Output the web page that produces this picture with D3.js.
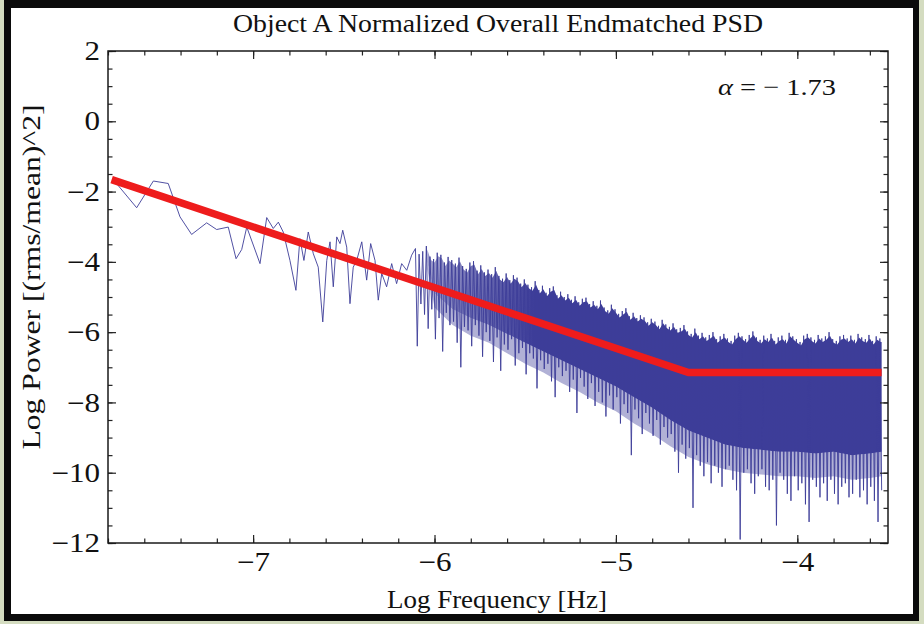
<!DOCTYPE html>
<html>
<head>
<meta charset="utf-8">
<script src="https://cdn.jsdelivr.net/npm/d3@7"></script>
<style>
  html, body { margin: 0; padding: 0; background: #d4dcc0; }
  svg { display: block; }
  text { font-family: "Liberation Serif", "Times New Roman", serif; fill: #111; }
</style>
</head>
<body>
<svg id="chart" width="924" height="624"></svg>
<script>
// ---- data (log10 frequency / log10 power) ----

// sparse low-frequency points, drawn one by one
const sparseFreq = [-7.771, -7.642, -7.550, -7.468, -7.403, -7.339, -7.256, -7.201, -7.137, -7.094,
  -7.063, -7.035, -6.962, -6.925, -6.889, -6.861, -6.834, -6.797, -6.764, -6.742,
  -6.720, -6.696, -6.668, -6.641, -6.616, -6.594, -6.576, -6.558, -6.539, -6.521,
  -6.506, -6.484, -6.466, -6.448, -6.429, -6.401, -6.374, -6.352, -6.328, -6.310,
  -6.291, -6.264, -6.236, -6.209, -6.181, -6.153, -6.126];
const sparsePower = [-1.66, -2.46, -1.70, -1.77, -2.72, -3.22, -2.89, -3.08, -3.01, -3.91,
  -3.65, -3.01, -4.05, -2.74, -3.05, -2.87, -3.15, -3.96, -4.81, -3.34,
  -3.96, -3.15, -3.77, -4.15, -5.71, -3.96, -3.43, -4.71, -3.29, -3.48,
  -3.10, -3.58, -5.19, -4.15, -3.96, -3.43, -4.52, -3.48, -3.96, -5.09,
  -4.33, -4.71, -4.05, -4.62, -4.05, -4.24, -3.81];

// dense part: per 0.02-decade bin, highest and lowest value of the trace
const binStart = -6.10;
const binStep = 0.02;
const binHigh = [
  -3.62, -3.78, -3.70, -3.55, -3.85, -3.92, -3.74, -3.80, -4.02, -3.86,
  -3.95, -4.05, -3.88, -4.12, -4.20, -4.02, -3.98, -4.25, -4.10, -4.30,
  -4.22, -4.35, -4.15, -4.40, -4.48, -4.33, -4.52, -4.38, -4.45, -4.62,
  -4.50, -4.65, -4.72, -4.55, -4.80, -4.68, -4.88, -4.75, -4.70, -4.95,
  -4.85, -5.00, -4.92, -5.08, -4.98, -5.15, -5.05, -5.02, -5.20, -5.12,
  -5.25, -5.10, -5.30, -5.38, -5.22, -5.35, -5.48, -5.40, -5.32, -5.55,
  -5.45, -5.60, -5.52, -5.58, -5.72, -5.62, -5.70, -5.82, -5.65, -5.78,
  -5.85, -5.75, -5.92, -5.88, -5.80, -5.98, -6.05, -5.90, -6.10, -6.02,
  -6.15, -6.08, -6.00, -6.20, -6.12, -6.05, -6.18, -6.25, -6.10, -6.02,
  -6.12, -6.20, -6.08, -5.98, -6.15, -6.22, -6.10, -6.18, -6.05, -6.25,
  -6.15, -6.10, -6.22, -6.02, -6.12, -6.20, -6.28, -6.10, -6.05, -6.15,
  -6.22, -6.08, -6.18, -6.12, -6.00, -6.20, -6.25, -6.12, -6.08, -6.18,
  -6.10, -6.22, -6.05, -6.15, -6.20, -6.08, -6.25, -6.12, -6.18];
const binLow = [
  -6.40, -5.20, -5.50, -5.90, -5.35, -6.20, -5.60, -6.55, -5.45, -5.80,
  -5.70, -6.30, -7.00, -5.85, -5.95, -6.40, -5.80, -6.10, -6.70, -6.00,
  -6.25, -6.85, -6.15, -7.10, -6.35, -6.50, -6.20, -6.95, -6.60, -6.45,
  -7.20, -6.60, -6.75, -7.60, -6.80, -7.05, -6.90, -7.40, -7.85, -7.00,
  -7.25, -7.10, -7.70, -7.35, -8.30, -7.30, -7.55, -7.90, -7.45, -8.10,
  -7.70, -8.00, -8.40, -7.80, -8.20, -7.85, -8.60, -8.05, -8.30, -9.50,
  -8.20, -8.45, -8.90, -8.30, -8.60, -8.95, -8.50, -9.20, -8.70, -9.00,
  -8.90, -9.40, -10.00, -9.20, -9.60, -9.30, -11.00, -9.50, -9.80, -10.10,
  -9.70, -10.30, -9.80, -10.00, -10.40, -9.90, -9.80, -10.20, -10.50, -11.90,
  -10.00, -9.90, -10.30, -10.60, -10.10, -9.90, -10.40, -10.50, -10.20, -11.50,
  -10.00, -10.20, -10.60, -10.80, -10.10, -10.50, -10.30, -10.90, -11.40, -10.20,
  -10.40, -10.70, -10.30, -10.80, -10.20, -10.60, -10.90, -10.40, -10.30, -10.70,
  -10.60, -10.20, -10.70, -10.50, -10.90, -10.40, -10.80, -11.40, -10.50];

// lower edges of the dense band: where it is solid, and where the spikes thin out
const coreFreq = [-6.04, -6.0, -5.9, -5.8, -5.7, -5.6, -5.5, -5.4, -5.3, -5.2, -5.1, -5.0, -4.9,
  -4.8, -4.7, -4.6, -4.5, -4.4, -4.3, -4.2, -4.1, -4.0, -3.9, -3.8, -3.7, -3.6, -3.535];
const coreBottom = [-4.0, -4.9, -5.35, -5.6, -5.8, -6.05, -6.3, -6.55, -6.8, -7.05, -7.3, -7.55, -7.85,
  -8.15, -8.5, -8.8, -9.0, -9.2, -9.3, -9.35, -9.4, -9.4, -9.45, -9.4, -9.5, -9.45, -9.4];
const fringeBottom = [-4.2, -5.3, -5.8, -6.1, -6.3, -6.6, -6.9, -7.15, -7.45, -7.7, -8.0, -8.25, -8.6,
  -8.9, -9.25, -9.55, -9.75, -9.9, -10.0, -10.05, -10.1, -10.1, -10.15, -10.1, -10.2, -10.15, -10.1];

// broken power-law fit
const fitFreq = [-7.78, -4.60, -3.535];
const fitPower = [-1.66, -7.15, -7.15];
const alphaText = '\u2212 1.73';

const xMajor = [-7, -6, -5, -4];
const yMajor = [-12, -10, -8, -6, -4, -2, 0, 2];

// ---- layout ----
const W = 924, H = 624;
const plot = { left: 108, right: 888, top: 51, bottom: 543 };
const blue = '#3d3d99';

const x = d3.scaleLinear().domain([-7.8, -3.5]).range([plot.left, plot.right]);
const y = d3.scaleLinear().domain([-12, 2]).range([plot.bottom, plot.top]);

const xMinor = d3.range(-39, -17).map(v => v / 5);
const yMinor = d3.range(-24, 5).map(v => v / 2);

const fmt = d => (d < 0 ? '\u2212' + Math.abs(d) : String(d));
const line = d3.line().x(d => x(d[0])).y(d => y(d[1]));

const svg = d3.select('#chart');

// outer page frame
svg.append('rect').attr('width', W).attr('height', H).attr('fill', '#d4dcc0');
svg.append('rect')
  .attr('x', 4).attr('y', 0).attr('width', 915).attr('height', 621)
  .attr('fill', '#0b0b0b');
svg.append('rect')
  .attr('x', 11).attr('y', 8).attr('width', 902).attr('height', 606)
  .attr('fill', '#ffffff');

const defs = svg.append('defs');
defs.append('clipPath').attr('id', 'plot-clip')
  .append('rect')
  .attr('x', plot.left).attr('y', plot.top)
  .attr('width', plot.right - plot.left).attr('height', plot.bottom - plot.top);

// the band is still see-through where the trace is only starting to crowd
const fade = defs.append('linearGradient')
  .attr('id', 'body-fade')
  .attr('gradientUnits', 'userSpaceOnUse')
  .attr('x1', x(-6.05)).attr('x2', x(-5.45))
  .attr('y1', 0).attr('y2', 0);
fade.append('stop').attr('offset', 0).attr('stop-color', blue).attr('stop-opacity', 0.5);
fade.append('stop').attr('offset', 1).attr('stop-color', blue).attr('stop-opacity', 1);

const marks = svg.append('g').attr('clip-path', 'url(#plot-clip)');

const bins = binHigh.map((hi, i) => ({ f: binStart + i * binStep, hi, lo: binLow[i] }));
const coreEdge = coreFreq.map((f, i) => [f, coreBottom[i]]);
const fringeEdge = coreFreq.map((f, i) => [f, fringeBottom[i]]);

// thinning spikes just under the solid part
marks.append('path')
  .datum(coreEdge.concat(fringeEdge.slice().reverse()))
  .attr('fill', blue)
  .attr('fill-opacity', 0.4)
  .attr('d', line.curve(d3.curveLinearClosed));

// solid body of the dense band: bin peaks on top, core edge underneath
const bodyTop = bins
  .filter(b => b.f >= coreFreq[0] - 1e-9)
  .map(b => [b.f, b.hi - 0.1]);
bodyTop.push([coreFreq[coreFreq.length - 1], binHigh[binHigh.length - 1] - 0.1]);

marks.append('path')
  .datum(bodyTop.concat(coreEdge.slice().reverse()))
  .attr('fill', 'url(#body-fade)')
  .attr('d', line.curve(d3.curveLinearClosed));

line.curve(d3.curveLinear);

// PSD trace: sparse points, then each dense bin as its high / low swing
const trace = sparseFreq.map((f, i) => [f, sparsePower[i]]);
bins.forEach(b => {
  trace.push([b.f - binStep / 4, b.hi]);
  trace.push([b.f + binStep / 4, b.lo]);
});

marks.append('path')
  .datum(trace)
  .attr('fill', 'none')
  .attr('stroke', blue)
  .attr('stroke-width', 0.9)
  .attr('d', line);

// fit line
marks.append('path')
  .datum(fitFreq.map((f, i) => [f, fitPower[i]]))
  .attr('fill', 'none')
  .attr('stroke', '#ee1c1c')
  .attr('stroke-width', 7.5)
  .attr('d', line);

// ---- frame ticks (inward, on all four sides) ----
function tickGroup(axis, tx, ty) {
  const g = svg.append('g').attr('transform', `translate(${tx},${ty})`).call(axis);
  g.select('.domain').remove();
  g.selectAll('line').attr('stroke', '#222').attr('stroke-width', 1.2);
  return g;
}

tickGroup(d3.axisBottom(x).tickValues(xMinor).tickSize(-4.5).tickFormat(''), 0, plot.bottom);
tickGroup(d3.axisTop(x).tickValues(xMinor).tickSize(-4.5).tickFormat(''), 0, plot.top);
tickGroup(d3.axisTop(x).tickValues(xMajor).tickSize(-8).tickFormat(''), 0, plot.top);
tickGroup(d3.axisLeft(y).tickValues(yMinor).tickSize(-4.5).tickFormat(''), plot.left, 0);
tickGroup(d3.axisRight(y).tickValues(yMinor).tickSize(-4.5).tickFormat(''), plot.right, 0);
tickGroup(d3.axisRight(y).tickValues(yMajor).tickSize(-8).tickFormat(''), plot.right, 0);

const xAxis = tickGroup(
  d3.axisBottom(x).tickValues(xMajor).tickSize(-8).tickPadding(9).tickFormat(fmt),
  0, plot.bottom);
const yAxis = tickGroup(
  d3.axisLeft(y).tickValues(yMajor).tickSize(-8).tickPadding(8).tickFormat(fmt),
  plot.left, 0);

// the original image is a little wider than tall: stretch glyphs sideways
function stretch(sel, k) {
  sel.each(function() {
    const w = this.getComputedTextLength();
    d3.select(this).attr('textLength', w * k).attr('lengthAdjust', 'spacingAndGlyphs');
  });
}

[xAxis, yAxis].forEach(g => {
  g.selectAll('text')
    .attr('fill', '#111')
    .style('font-family', '"Liberation Serif", serif')
    .style('font-size', '27px');
  stretch(g.selectAll('text'), 1.15);
});

// frame
svg.append('rect')
  .attr('x', plot.left).attr('y', plot.top)
  .attr('width', plot.right - plot.left).attr('height', plot.bottom - plot.top)
  .attr('fill', 'none')
  .attr('stroke', '#1a1a1a')
  .attr('stroke-width', 1.5);

// ---- labels ----
svg.append('text')
  .attr('x', (plot.left + plot.right) / 2).attr('y', 32)
  .attr('text-anchor', 'middle')
  .style('font-size', '26px')
  .attr('textLength', 530).attr('lengthAdjust', 'spacingAndGlyphs')
  .text('Object A Normalized Overall Endmatched PSD');

svg.append('text')
  .attr('x', 497).attr('y', 608)
  .attr('text-anchor', 'middle')
  .style('font-size', '26px')
  .attr('textLength', 220).attr('lengthAdjust', 'spacingAndGlyphs')
  .text('Log Frequency [Hz]');

svg.append('text')
  .attr('transform', 'translate(40,277) rotate(-90)')
  .attr('text-anchor', 'middle')
  .style('font-size', '26px')
  .attr('textLength', 345).attr('lengthAdjust', 'spacingAndGlyphs')
  .text('Log Power [(rms/mean)^2]');

const alpha = svg.append('text')
  .attr('x', 718).attr('y', 95)
  .style('font-size', '24px')
  .attr('textLength', 118).attr('lengthAdjust', 'spacingAndGlyphs');
alpha.append('tspan').style('font-style', 'italic').text('\u03b1');
alpha.append('tspan').text(' =  ' + alphaText);
</script>
</body>
</html>
